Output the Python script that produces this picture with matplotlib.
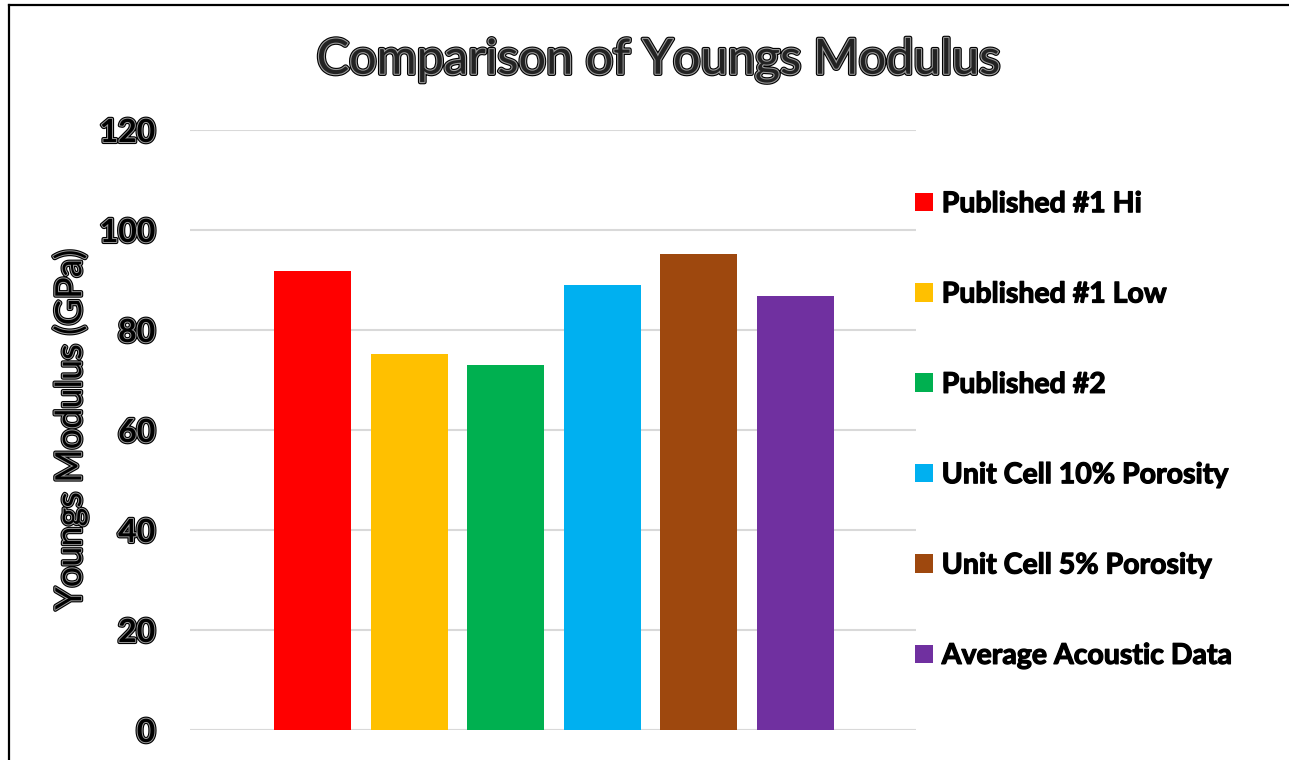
import matplotlib.pyplot as plt
import matplotlib.patheffects as pe
from matplotlib.lines import Line2D

# data
labels = ['Published #1 Hi', 'Published #1 Low', 'Published #2',
          'Unit Cell 10% Porosity', 'Unit Cell 5% Porosity', 'Average Acoustic Data']
values = [91.8, 75.2, 73.0, 89.0, 95.2, 86.8]
colors = ['#FF0000', '#FFC000', '#00B050', '#00B0F0', '#9E480E', '#7030A0']
yticks = [0, 20, 40, 60, 80, 100, 120]

plt.rcParams['font.family'] = 'Lato'

W, H = 1289, 760
fig = plt.figure(figsize=(W / 100, H / 100), dpi=100)
ax = fig.add_axes([190 / W, 1 - 730 / H, (916 - 190) / W, 600 / H])

# outline effect like the Excel text
glow = [pe.Stroke(linewidth=3, foreground='black'),
        pe.Stroke(linewidth=1.4, foreground='#9a9a9a'),
        pe.Normal()]

x = list(range(len(values)))
bars = ax.bar(x, values, width=0.8, color=colors, zorder=3)

ax.set_ylim(0, 120)
ax.set_xlim(-1.27, 6.25)
ax.set_yticks(yticks)
ax.set_yticklabels([str(t) for t in yticks], fontsize=23, fontweight='bold')
for t in ax.get_yticklabels():
    t.set_path_effects(glow)
ax.tick_params(axis='y', length=0, pad=25)
ax.set_xticks([])
ax.grid(axis='y', color='#d9d9d9', linewidth=1.5, zorder=0)
for s in ax.spines.values():
    s.set_visible(False)
ax.axhline(0, color='#d9d9d9', linewidth=2.2, zorder=2)

ylab = ax.set_ylabel('Youngs Modulus (GPa)', fontsize=26, labelpad=9)
ylab.set_path_effects(glow)

title = fig.text(658 / W, 1 - 60 / H, 'Comparison of Youngs Modulus', fontsize=35,
                 ha='center', va='center', color='#222222')
title.set_path_effects([pe.Stroke(linewidth=3.2, foreground='black'),
                        pe.Stroke(linewidth=1.6, foreground='#9a9a9a'),
                        pe.Normal()])

leg = fig.legend(handles=list(bars), labels=labels, loc='center left',
                 bbox_to_anchor=(901 / W, 1 - 430 / H), frameon=False,
                 prop={'family': 'Lato', 'weight': 'bold', 'size': 20.5},
                 borderpad=0, handlelength=0.63, handleheight=0.63,
                 handletextpad=0.3, labelspacing=2.26)
for t in leg.get_texts():
    t.set_path_effects([pe.Stroke(linewidth=0.9, foreground='black'), pe.Normal()])

# outer frame (top and left only visible)
fig.add_artist(Line2D([9 / W, 1], [1 - 5 / H, 1 - 5 / H], color='black', linewidth=1.6))
fig.add_artist(Line2D([9 / W, 9 / W], [0, 1 - 5 / H], color='black', linewidth=1.6))

fig.savefig('out.png', dpi=100)
